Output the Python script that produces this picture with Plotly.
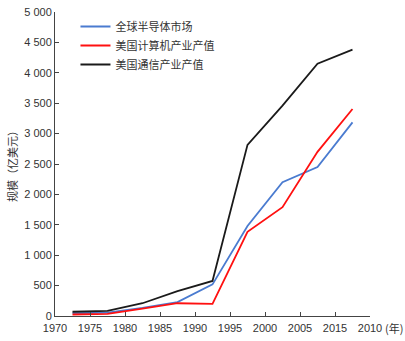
import plotly.graph_objects as go

years = [1972.5, 1977.5, 1982.5, 1987.5, 1992.5, 1997.5, 2002.5, 2007.5, 2012.5]
semi_global = [45, 55, 135, 230, 520, 1480, 2200, 2450, 3185]
us_computer = [25, 35, 120, 210, 200, 1385, 1790, 2700, 3405]
us_comm = [70, 85, 210, 410, 576, 2815, 3460, 4150, 4380]

series_names = ["全球半导体市场", "美国计算机产业产值", "美国通信产业产值"]
colors = ["#4a7bd0", "#ff1010", "#1a1a1a"]

x_tickvals = [1970, 1975, 1980, 1985, 1990, 1995, 2000, 2005, 2010, 2015]
x_ticktext = ["1970", "1975", "1980", "1985", "1990", "1995", "2000", "2005", "2015", "2010"]
y_tickvals = [0, 500, 1000, 1500, 2000, 2500, 3000, 3500, 4000, 4500, 5000]
y_ticktext = ["0", "500", "1 000", "1 500", "2 000", "2 500", "3 000", "3 500", "4 000", "4 500", "5 000"]

font_fam = "Liberation Sans, Arial, Noto Sans CJK SC"
cjk = "Noto Sans CJK SC"

fig = go.Figure()
for name, vals, c in zip(series_names, [semi_global, us_computer, us_comm], colors):
    fig.add_trace(go.Scatter(x=years, y=vals, mode="lines", name=name,
                             line=dict(color=c, width=1.8)))

fig.update_layout(
    width=405, height=341,
    margin=dict(l=55, r=35, t=12, b=25, autoexpand=False),
    paper_bgcolor="white", plot_bgcolor="white",
    font=dict(family=font_fam, size=11, color="#333"),
    showlegend=True,
    legend=dict(x=0.065, y=1.0, xanchor="left", yanchor="top",
                bgcolor="rgba(0,0,0,0)", font=dict(family=cjk, size=11, color="#333"),
                tracegroupgap=0, itemwidth=30),
    xaxis=dict(range=[1970, 2015], tickmode="array", tickvals=x_tickvals, ticktext=x_ticktext,
               showline=True, linecolor="#444", linewidth=1, ticks="inside", ticklen=4,
               tickcolor="#444", showgrid=False, zeroline=False, automargin=False,
               ticklabelstandoff=2,
               tickfont=dict(family=font_fam, size=11, color="#333")),
    yaxis=dict(range=[0, 5000], tickmode="array", tickvals=y_tickvals, ticktext=y_ticktext,
               showline=True, linecolor="#444", linewidth=1, ticks="inside", ticklen=4,
               tickcolor="#444", showgrid=False, zeroline=False, automargin=False,
               tickfont=dict(family=font_fam, size=11, color="#333")),
    annotations=[
        dict(text="(年)", xref="paper", yref="paper", x=1.0, y=0, xshift=13, yshift=-12,
             xanchor="left", yanchor="middle", showarrow=False,
             font=dict(family=cjk, size=11, color="#333")),
        dict(text="规模（亿美元）", xref="paper", yref="paper", x=0, y=0.5, xshift=-43,
             xanchor="center", yanchor="middle", textangle=-90, showarrow=False,
             font=dict(family=cjk, size=11, color="#333")),
    ],
)

fig.write_html("out.html")
